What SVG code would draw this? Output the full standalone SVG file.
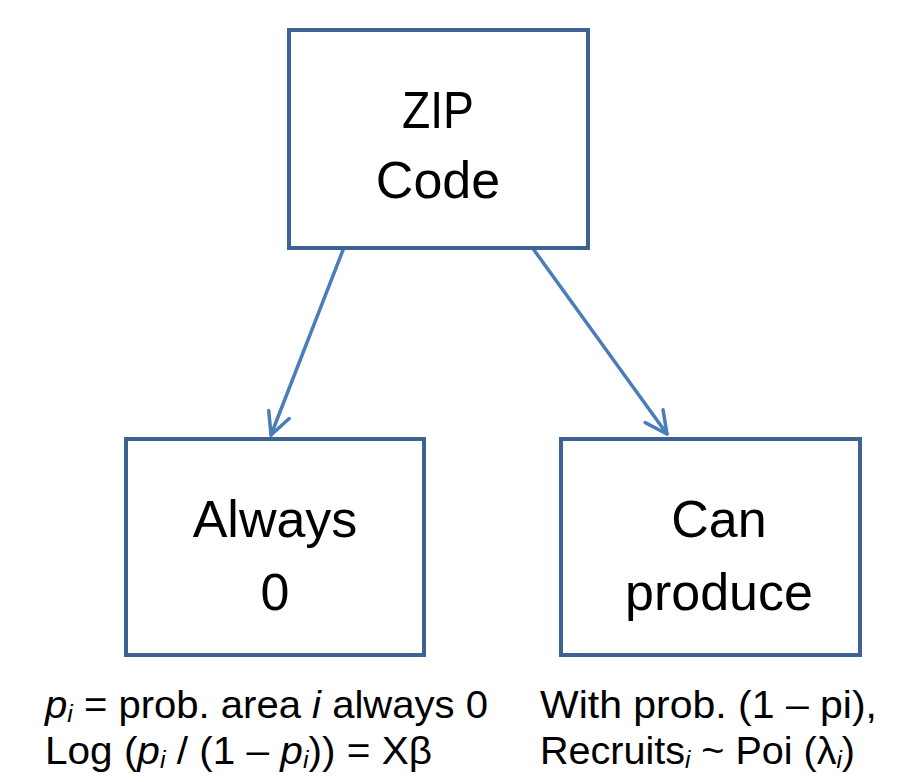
<svg xmlns="http://www.w3.org/2000/svg" width="914" height="782" viewBox="0 0 914 782">
  <defs>
    <style>
      .box { fill: #ffffff; stroke: #3E6393; stroke-width: 4; }
      .label { font-family: "Liberation Sans", Arial, sans-serif; font-size: 52px; fill: #000000; text-anchor: middle; }
      .note { font-family: "Liberation Sans", Arial, sans-serif; font-size: 39px; fill: #000000; }
      .edge { fill: none; stroke: #4A7EBB; stroke-width: 3.5; stroke-linecap: round; }
      .it { font-style: italic; }
      .sub { font-size: 24px; font-style: italic; }
    </style>
    <marker id="open-arrow" markerUnits="userSpaceOnUse" markerWidth="40" markerHeight="40" refX="0" refY="0" orient="auto" overflow="visible">
      <path d="M-22,-11 L0,0 L-22,11" fill="none" stroke="#4A7EBB" stroke-width="3.5" stroke-linecap="round" stroke-linejoin="round"/>
    </marker>
  </defs>

  <rect width="914" height="782" fill="#ffffff"/>

  <!-- connectors -->
  <g id="connectors">
    <line class="edge" x1="343" y1="250" x2="271" y2="435" marker-end="url(#open-arrow)"/>
    <line class="edge" x1="534" y1="250" x2="667" y2="434" marker-end="url(#open-arrow)"/>
  </g>

  <!-- root node -->
  <g id="zip-code">
    <rect class="box" x="289" y="30" width="299" height="218"/>
    <text class="label" x="438" y="128" textLength="72" lengthAdjust="spacingAndGlyphs">ZIP</text>
    <text class="label" x="438" y="198">Code</text>
  </g>

  <!-- structural zero branch -->
  <g id="always-zero">
    <rect class="box" x="126" y="439" width="298" height="216"/>
    <text class="label" x="275" y="537">Always</text>
    <text class="label" x="275" y="610">0</text>
  </g>

  <!-- count branch -->
  <g id="can-produce">
    <rect class="box" x="561" y="439" width="299" height="216"/>
    <text class="label" x="719" y="537">Can</text>
    <text class="label" x="719" y="610" font-size="54">produce</text>
  </g>

  <!-- model notes -->
  <g id="notes">
    <text class="note" x="45" y="718" textLength="443" lengthAdjust="spacingAndGlyphs"><tspan class="it">p</tspan><tspan class="sub" dy="4">i</tspan><tspan dy="-4"> = prob. area </tspan><tspan class="it">i</tspan><tspan> always 0</tspan></text>
    <text class="note" x="45" y="764" textLength="387" lengthAdjust="spacingAndGlyphs"><tspan>Log (</tspan><tspan class="it">p</tspan><tspan class="sub" dy="4">i</tspan><tspan dy="-4"> / (1 – </tspan><tspan class="it">p</tspan><tspan class="sub" dy="4">i</tspan><tspan dy="-4">)) = Xβ</tspan></text>
    <text class="note" x="540" y="718" textLength="337" lengthAdjust="spacingAndGlyphs">With prob. (1 – pi),</text>
    <text class="note" x="540" y="764" textLength="315" lengthAdjust="spacingAndGlyphs"><tspan>Recruits</tspan><tspan class="sub" dy="4">i</tspan><tspan dy="-4"> ~ Poi (λ</tspan><tspan class="sub" dy="4">i</tspan><tspan dy="-4">)</tspan></text>
  </g>
</svg>
